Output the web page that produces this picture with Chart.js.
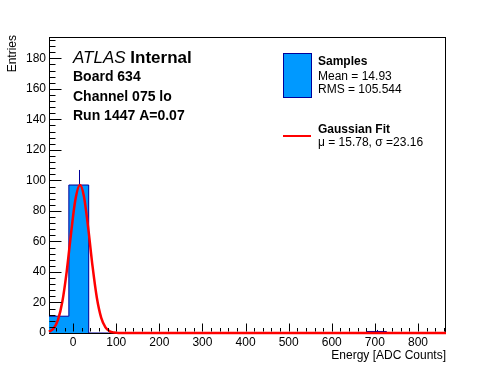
<!DOCTYPE html>
<html><head><meta charset="utf-8">
<script src="https://cdn.jsdelivr.net/npm/chart.js@4.4.0/dist/chart.umd.min.js"></script>
<style>html,body{margin:0;padding:0;background:#fff}canvas{display:block}</style>
</head><body>
<canvas id="c" width="496" height="372"></canvas>
<script>
// ---- data ----
const binEdges = [-56, -9.95, 36.1, 82.15, 128.2, 174.25, 220.3, 266.35, 312.4, 358.45, 404.5,
                  450.55, 496.6, 542.65, 588.7, 634.75, 680.8, 726.85, 772.9, 818.95, 865];
const binCounts = [11, 97, 0, 0, 0, 0, 0, 0, 0, 0, 0, 0, 0, 0, 0, 0, 1, 0, 0, 0];
const fitX = [-56, -45, -35, -25, -15, -5, 5, 15.8, 25, 35, 45, 55, 65, 75, 85, 95, 105, 865];
const fitY = [0.8, 3.1, 8.8, 20.6, 40.1, 64.9, 87.0, 97, 89.6, 68.7, 43.8, 23.1, 10.1, 3.7, 1.1, 0.3, 0, 0];
const xTicks = [0, 100, 200, 300, 400, 500, 600, 700, 800];
const yTicks = [0, 20, 40, 60, 80, 100, 120, 140, 160, 180];
const xRange = [-56, 865];
const yRange = [0, 194];
const xTitle = 'Energy [ADC Counts]';
const yTitle = 'Entries';
const infoLines = ['Board 634', 'Channel 075 lo', 'Run 1447 A=0.07'];
const sampleLegend = ['Samples', 'Mean = 14.93', 'RMS = 105.544'];
const fitLegend = ['Gaussian Fit', 'μ = 15.78, σ =23.16'];

const FONT = '"Liberation Sans", Arial, Helvetica, sans-serif';
const BLUE = 'rgb(0,153,255)';
const NAVY = '#000099';
const RED = '#ff0000';

const histPoints = binCounts.map((c, i) => ({x: binEdges[i], y: c}));
histPoints.push({x: binEdges[binEdges.length - 1], y: 0});
const fitPoints = fitX.map((v, i) => ({x: v, y: fitY[i]}));

const rootStyle = {
  id: 'rootStyle',
  afterDatasetDraw(chart, args) {
    if (args.index !== 1) return;
    const {ctx, scales: {x, y}} = chart;
    ctx.save();
    ctx.strokeStyle = NAVY; ctx.lineWidth = 1;
    binCounts.forEach((c, i) => {
      if (c <= 0) return;
      const cx = Math.round(x.getPixelForValue((binEdges[i] + binEdges[i + 1]) / 2)) + 0.5;
      ctx.beginPath();
      ctx.moveTo(cx, y.getPixelForValue(c));
      ctx.lineTo(cx, y.getPixelForValue(c + Math.sqrt(c)));
      ctx.stroke();
    });
    ctx.restore();
  },
  beforeDatasetsDraw(chart) {
    const {ctx, chartArea: a} = chart;
    ctx.save();
    ctx.strokeStyle = '#000'; ctx.lineWidth = 1;
    ctx.strokeRect(Math.round(a.left) + 0.5, Math.round(a.top) + 0.5,
                   Math.round(a.right - a.left) - 1, Math.round(a.bottom - a.top));
    ctx.restore();
  },
  afterDraw(chart) {
    const {ctx, chartArea: a, scales: {x, y}} = chart;
    ctx.save();
    ctx.strokeStyle = '#000'; ctx.lineWidth = 1;
    const bot = Math.round(a.bottom) - 0.5;
    const lft = Math.round(a.left) + 0.5;
    // x ticks (inward)
    for (let v = -40; v <= xRange[1]; v += 20) {
      const px = Math.round(x.getPixelForValue(v)) + 0.5;
      const len = (v % 100 === 0) ? 9 : 4.5;
      ctx.beginPath(); ctx.moveTo(px, bot - 1); ctx.lineTo(px, bot - len); ctx.stroke();
    }
    // y ticks (inward)
    for (let v = 0; v <= yRange[1]; v += 4) {
      const py = Math.round(y.getPixelForValue(v)) + 0.5;
      const len = (v % 20 === 0) ? 12 : 6;
      ctx.beginPath(); ctx.moveTo(lft, py); ctx.lineTo(lft + len, py); ctx.stroke();
    }
    ctx.fillStyle = '#000';
    // axis titles
    ctx.font = '12px ' + FONT;
    ctx.textAlign = 'right'; ctx.textBaseline = 'alphabetic';
    ctx.fillText(xTitle, a.right, 359);
    ctx.save();
    ctx.translate(16, 35); ctx.rotate(-Math.PI / 2);
    ctx.textAlign = 'right';
    ctx.fillText(yTitle, 0, 0);
    ctx.restore();
    // ATLAS label
    ctx.textAlign = 'left';
    ctx.font = 'italic 17px ' + FONT;
    ctx.fillText('ATLAS', 73, 63);
    const w = ctx.measureText('ATLAS ').width;
    ctx.font = 'bold 17px ' + FONT;
    ctx.fillText('Internal', 73 + w, 63);
    ctx.font = 'bold 14px ' + FONT;
    [81, 101, 120].forEach((b, i) => ctx.fillText(infoLines[i], 73, b));
    // legend
    ctx.fillStyle = BLUE; ctx.fillRect(283, 53, 28, 44);
    ctx.strokeStyle = NAVY; ctx.strokeRect(283.5, 53.5, 28, 44);
    ctx.fillStyle = '#000';
    ctx.font = 'bold 12px ' + FONT; ctx.fillText(sampleLegend[0], 318, 65);
    ctx.font = '12px ' + FONT;
    ctx.fillText(sampleLegend[1], 318, 80);
    ctx.fillText(sampleLegend[2], 318, 93);
    ctx.strokeStyle = RED; ctx.lineWidth = 2;
    ctx.beginPath(); ctx.moveTo(283, 136); ctx.lineTo(311, 136); ctx.stroke();
    ctx.font = 'bold 12px ' + FONT; ctx.fillText(fitLegend[0], 318, 133);
    ctx.font = '12px ' + FONT; ctx.fillText(fitLegend[1], 318, 146);
    ctx.restore();
  }
};

new Chart(document.getElementById('c'), {
  type: 'line',
  data: {
    datasets: [
      {label: 'Gaussian Fit', data: fitPoints, borderColor: RED, borderWidth: 2.5,
       pointRadius: 0, fill: false, cubicInterpolationMode: 'monotone', clip: false, order: 0},
      {label: 'Samples', data: histPoints, borderColor: NAVY, borderWidth: 1,
       backgroundColor: BLUE, pointRadius: 0, fill: 'origin', stepped: true, order: 1}
    ]
  },
  options: {
    responsive: false, animation: false,
    layout: {padding: {top: 37, right: 50, left: 0, bottom: 0}},
    plugins: {legend: {display: false}, tooltip: {enabled: false}},
    scales: {
      x: {type: 'linear', min: xRange[0], max: xRange[1],
          grid: {display: false, drawTicks: false}, border: {display: false},
          afterBuildTicks: s => { s.ticks = xTicks.map(v => ({value: v})); },
          afterFit: s => { s.height = 39; },
          ticks: {color: '#000', font: {family: FONT, size: 12}, padding: 2, maxRotation: 0, autoSkip: false}},
      y: {type: 'linear', min: yRange[0], max: yRange[1],
          grid: {display: false, drawTicks: false}, border: {display: false},
          afterBuildTicks: s => { s.ticks = yTicks.map(v => ({value: v})); },
          afterFit: s => { s.width = 49; },
          ticks: {color: '#000', font: {family: FONT, size: 12}, padding: 3}}
    }
  },
  plugins: [rootStyle]
});
</script>
</body></html>
